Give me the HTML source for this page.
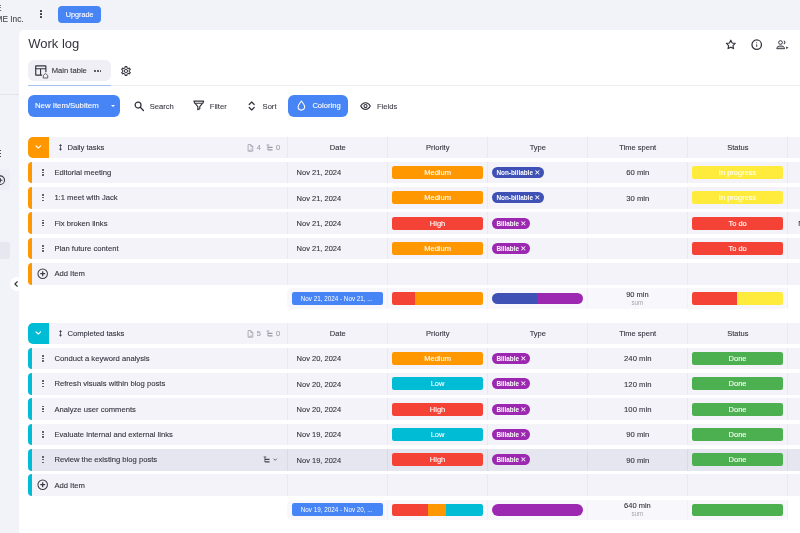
<!DOCTYPE html>
<html lang="en">
<head>
<meta charset="utf-8">
<title>Work log</title>
<style>
*{box-sizing:border-box;margin:0;padding:0}
html,body{width:800px;height:533px;overflow:hidden}
body{position:relative;background:#f2f2f9;font-family:"Liberation Sans",sans-serif;font-size:7.5px;color:#33333d;-webkit-text-stroke:0.1px currentColor}
i,em,b{font-style:normal;font-weight:normal}
.abs,.panel,.in,.in>*,.side>*{position:absolute}
.in{left:0;top:-0.2px;width:100%;height:100%}
svg{display:block;overflow:visible}
/* top bar */
.org1{position:absolute;left:-4.2px;top:2.6px;font-size:8.6px;line-height:10px;color:#44444e}
.org2{position:absolute;left:-4.5px;top:13.6px;font-size:8.3px;line-height:10px;color:#44444e;transform:scaleY(1.08);white-space:nowrap}
.kebab{position:absolute;left:40.4px;top:10.2px;width:2px}
.kebab i,.sk i{display:block;width:1.7px;height:1.7px;border-radius:50%;background:#33333d;margin-bottom:1.4px}
.upg{position:absolute;left:58.2px;top:5.6px;width:43px;height:17.2px;border-radius:4px;background:#4784f5;color:#fff;font-size:7.3px;line-height:17.2px;text-align:center}
/* sidebar */
.side{position:absolute;left:0;top:29px;width:19.4px;height:504px}
.sline{left:0;top:65px;width:19.4px;height:1px;background:#e3e3ec}
.sk{left:-0.8px;top:120.5px}
.sbox1{left:-4px;top:139.6px;width:13.6px;height:21px;border-radius:3px;background:#ededf5}
.sbox2{left:-4px;top:213.4px;width:13.6px;height:17px;border-radius:3px;background:#e7e7f0}
.scirc{left:-5px;top:145.8px;width:10.4px;height:10.4px}
.coll{position:absolute;left:9.6px;top:277px;width:13.6px;height:13.6px;border-radius:50%;background:#fff}
.coll svg{position:absolute;left:4.6px;top:3.8px;width:4px;height:6px}
/* panel */
.panel{left:19.4px;top:29.5px;width:790px;height:510px;background:#fff;border-radius:5px 0 0 0}
.h1{left:8.8px;top:6.9px;-webkit-text-stroke:0;font-size:13px;line-height:16px;color:#33333d;white-space:nowrap}
.tab{left:8.2px;top:31.1px;width:83.4px;height:20.8px;border-radius:6px;background:#efeff5}
.tab svg.tbl{position:absolute;left:7.6px;top:5px;width:11.6px;height:11px}
.tab svg.home{position:absolute;left:14.8px;top:11.6px;width:7px;height:7px}
.tab span{position:absolute;left:24.2px;top:0;line-height:22.4px;font-size:7.6px;white-space:nowrap;color:#33333d}
.tab .more{position:absolute;left:66.8px;top:10px;width:12px;height:2px}
.tab .more i{float:left;width:1.5px;height:1.5px;border-radius:50%;background:#444450;margin-right:1.2px}
.gear{left:100.6px;top:35.6px;width:12px;height:12px}
.hr{left:8.2px;top:56.1px;width:790px;height:1px;background:#ebebf0}
.hrb{left:8.2px;top:55.8px;width:83.4px;height:1.1px;background:#a6c2ec}
.btn{left:8.4px;top:66px;width:92.2px;height:21.8px;border-radius:6px;background:#4784f5;color:#fff;font-size:7.8px;line-height:22.4px;padding-left:7.2px;white-space:nowrap}
.btn:after{content:"";position:absolute;left:83.6px;top:9.6px;border:2.2px solid transparent;border-top:2.6px solid #fff;border-bottom:0}
.tb{font-size:7.6px;line-height:10px;top:72.2px;color:#3c3c46;white-space:nowrap}
.btn2{left:268.6px;top:65.8px;width:59.6px;height:21.8px;border-radius:6px;background:#4784f5}
.btn2 span{position:absolute;left:24.4px;top:0;line-height:22.6px;color:#fff;font-size:7.6px}
.btn2 svg{position:absolute;left:9.2px;top:5.2px;width:8.8px;height:11px}
/* table */
.ghead,.row,.summ{left:8.4px;width:790px;height:21.4px}
.ghead{background:#f4f3fa;border-radius:5px 0 0 5px}
.gtog{position:absolute;left:0;top:0;width:21.4px;height:21.4px;border-radius:5px 0 0 5px}
.gtog svg{position:absolute;left:7.6px;top:8.6px;width:6.6px;height:4px}
.updown{position:absolute;left:31px;top:7.6px;width:3px;height:6.8px}
.gname{position:absolute;left:39.6px;top:0.2px;line-height:21.4px;font-size:7.65px;white-space:nowrap}
.gi{position:absolute;color:#9a9aa6}
.gcnt{position:absolute;top:0.3px;line-height:21.4px;font-size:7.4px;color:#9a9aa6}
.ch{position:absolute;top:0.3px;width:100px;text-align:center;line-height:21.4px;font-size:7.5px;white-space:nowrap}
.v{position:absolute;top:0;width:1px;height:100%;background:#e9e9f1}
.v2{position:absolute;top:0;width:1px;height:100%;background:#f0f0f5}
.row{background:#f4f3fa;border-radius:4px 0 0 4px}
.row.hl{background:#e6e6f0}
.row.hl .v{background:#dadae4}
.lb{position:absolute;left:0;top:0;width:4.4px;height:100%;border-radius:4px 0 0 4px}
.dots{position:absolute;left:14.6px;top:7.1px;width:2px}
.dots i{display:block;width:1.7px;height:1.6px;background:#62626c;margin-bottom:1.05px}
.title{position:absolute;left:26.6px;top:0.2px;line-height:21.4px;font-size:7.65px;white-space:nowrap}
.ri{position:absolute;color:#44444e}
.date{position:absolute;left:268.8px;top:0.4px;line-height:21.4px;font-size:7.5px;white-space:nowrap}
.badge{position:absolute;top:4.1px;width:91.6px;height:13.2px;border-radius:2.2px;color:#fff;text-align:center;line-height:14px;font-size:7.5px}
.chip{position:absolute;left:464px;top:5.3px;height:10.8px;border-radius:5.4px;color:#fff;font-size:6.4px;font-weight:bold;-webkit-text-stroke:0;line-height:11.6px;padding-left:4.6px;white-space:nowrap}
.chip em{font-size:7.4px;font-weight:bold;font-family:"DejaVu Sans",sans-serif;line-height:8px;margin-left:-0.6px}
.time{position:absolute;left:560px;width:100px;text-align:center;top:0.4px;line-height:21.4px;font-size:7.7px}
.plus{position:absolute;left:9.3px;top:5px;width:11.4px;height:11.4px}
.summ{left:268px;width:500.2px;background:#f8f8fc;border-radius:5px;height:20.2px}
.range{position:absolute;left:4.8px;top:3.6px;width:90.6px;height:13px;border-radius:2.2px;background:#4784f5;color:#fff;font-size:6.3px;-webkit-text-stroke:0;line-height:13.2px;text-indent:-1.6px;text-align:center;white-space:nowrap}
.sbar{position:absolute;width:90.8px;overflow:hidden;display:flex}
.sbar i{display:block;height:100%}
.stime{position:absolute;left:300px;width:100px;text-align:center;top:2.6px;line-height:8px;font-size:7.5px}
.ssum{position:absolute;left:300px;width:100px;text-align:center;top:10.4px;line-height:7px;font-size:6.3px;color:#a6a6b2;-webkit-text-stroke:0}
</style>
</head>
<body>
<div class="org1">E</div>
<div class="org2">ME Inc.</div>
<div class="kebab"><i></i><i></i><i></i></div>
<div class="upg">Upgrade</div>

<div class="side">
  <div class="sline"></div>
  <div class="sk"><i></i><i></i><i></i></div>
  <div class="sbox1"></div>
  <svg class="scirc" viewBox="0 0 12 12"><circle cx="6" cy="6" r="5" fill="none" stroke="#33333d" stroke-width="1.2"/><path d="M6 3.4v5.2M3.4 6h5.2" stroke="#33333d" stroke-width="1.3"/></svg>
  <div class="sbox2"></div>
</div>

<div class="panel"><div class="in">
  <div class="h1">Work log</div>
  <svg class="abs" viewBox="0 0 24 24" style="left:705.5px;top:9.700px;width:11.600px;height:11.200px"><path d="M12 2.6l2.9 6 6.5.9-4.7 4.6 1.1 6.5L12 17.5l-5.8 3.1 1.1-6.5L2.6 9.5l6.5-.9z" fill="none" stroke="#33333d" stroke-width="2.5" stroke-linejoin="round"/></svg>
  <svg class="abs" viewBox="0 0 24 24" style="left:731.800px;top:9.600px;width:11.400px;height:11.400px"><circle cx="12" cy="12" r="10" fill="none" stroke="#33333d" stroke-width="2.700"/><path d="M12 11.200v5.600" stroke="#33333d" stroke-width="1.900"/><circle cx="12" cy="7.800" r="1.150" fill="#33333d"/></svg>
  <svg class="abs" viewBox="0 0 26 20" style="left:757px;top:10.300px;width:13px;height:10px"><circle cx="9" cy="5" r="3.700" fill="none" stroke="#33333d" stroke-width="2"/><path d="M1.500 17.400C1.500 13 5.500 12 9.300 12s7.800 1 7.800 5.400z" fill="#c8c8ce" stroke="#33333d" stroke-width="1.900" stroke-linejoin="round"/><path d="M15.800 1.400a3.700 3.700 0 0 1 0 7a5 5 0 0 0 0-7z" fill="#33333d" stroke="#33333d" stroke-width="1" stroke-linejoin="round"/><path d="M20.400 12.800l4.800 2.600-4.800 2.600z" fill="#33333d"/></svg>

  <div class="tab">
    <svg class="tbl" viewBox="0 0 24 22"><rect x="1.500" y="1.500" width="21" height="19" rx="0.600" fill="none" stroke="#33333d" stroke-width="2.400"/><path d="M1.500 7.200h21M11.500 7.200v13" stroke="#33333d" stroke-width="2.200" fill="none"/></svg>
    <svg class="home" viewBox="0 0 14 14"><circle cx="7" cy="7" r="7" fill="#efeff5"/><path d="M2.500 7 7 2.800 11.500 7v5h-9z" fill="#efeff5" stroke="#33333d" stroke-width="1.500" stroke-linejoin="round"/></svg>
    <span>Main table</span>
    <div class="more"><i></i><i></i><i></i></div>
  </div>
  <svg class="gear" viewBox="0 0 24 24"><path fill="#33333d" d="M19.43 12.98c.04-.32.07-.64.07-.98 0-.34-.03-.66-.07-.98l2.110-1.650c.19-.15.24-.42.12-.64l-2-3.460c-.09-.16-.26-.25-.44-.25-.06 0-.12.010-.17.030l-2.490 1c-.52-.4-1.080-.73-1.690-.98l-.38-2.650C14.460 2.180 14.250 2 14 2h-4c-.25 0-.46.18-.49.42l-.38 2.650c-.61.25-1.170.59-1.690.98l-2.490-1c-.06-.02-.12-.03-.18-.03-.17 0-.34.09-.43.25l-2 3.460c-.13.22-.07.49.12.64l2.110 1.650c-.04.32-.07.65-.07.98 0 .33.030.66.070.98l-2.110 1.650c-.19.15-.24.42-.12.64l2 3.460c.09.16.26.25.44.25.06 0 .12-.01.17-.03l2.490-1c.52.4 1.080.73 1.690.98l.38 2.650c.03.24.24.42.49.42h4c.25 0 .46-.18.49-.42l.38-2.650c.61-.25 1.170-.59 1.690-.98l2.490 1c.06.020.12.030.18.030.17 0 .34-.09.43-.25l2-3.460c.12-.22.070-.49-.12-.64l-2.110-1.650zm-1.980-1.710c.04.31.05.52.05.73 0 .21-.02.43-.05.73l-.14 1.130.89.700 1.080.840-.7 1.210-1.270-.51-1.040-.42-.9.68c-.43.32-.84.56-1.250.73l-1.060.43-.16 1.130-.2 1.350h-1.400l-.19-1.350-.16-1.130-1.060-.43c-.43-.18-.83-.41-1.230-.71l-.91-.7-1.060.43-1.270.51-.7-1.210 1.080-.84.890-.7-.14-1.130c-.03-.31-.05-.54-.05-.74s.020-.43.050-.73l.14-1.130-.89-.7-1.080-.84.700-1.210 1.270.51 1.040.42.900-.68c.43-.32.840-.56 1.250-.73l1.060-.43.160-1.130.200-1.350h1.390l.19 1.350.16 1.130 1.060.43c.43.18.83.41 1.230.71l.91.700 1.060-.43 1.270-.51.700 1.210-1.070.85-.89.700.14 1.130zM12 8c-2.210 0-4 1.790-4 4s1.790 4 4 4 4-1.790 4-4-1.790-4-4-4zm0 6c-1.100 0-2-.9-2-2s.9-2 2-2 2 .9 2 2-.9 2-2 2z"/></svg>
  <div class="hr"></div>
  <div class="hrb"></div>

  <div class="btn">New Item/Subitem</div>
  <svg class="abs" viewBox="0 0 20 20" style="left:114.200px;top:72px;width:10.200px;height:10.200px"><circle cx="8" cy="8" r="5.800" fill="none" stroke="#33333d" stroke-width="2.400"/><path d="M12.400 12.400 18.500 18.500" stroke="#33333d" stroke-width="2.600" stroke-linecap="round"/></svg>
  <span class="tb" style="left:130.400px">Search</span>
  <svg class="abs" viewBox="0 0 24 22" style="left:173.600px;top:71px;width:11.600px;height:10.800px"><path d="M2 2h20l-1.500 4.500H3.500z" fill="none" stroke="#33333d" stroke-width="2.400" stroke-linejoin="round"/><path d="M4.500 7l5.500 6.500v6.500l4-2v-4.500L19.500 7" fill="none" stroke="#33333d" stroke-width="2.400" stroke-linejoin="round"/></svg>
  <span class="tb" style="left:190.400px">Filter</span>
  <svg class="abs" viewBox="0 0 14 20" style="left:228.400px;top:71.600px;width:7.400px;height:10px"><path d="M2 7 7 2l5 5M2 13l5 5 5-5" fill="none" stroke="#33333d" stroke-width="2.400" stroke-linecap="round" stroke-linejoin="round"/></svg>
  <span class="tb" style="left:243.200px">Sort</span>
  <div class="btn2"><svg viewBox="0 0 16 20"><path d="M8 1.800C5.500 5.200 2 9 2 12.500a6 6 0 0 0 12 0C14 9 10.500 5.200 8 1.800z" fill="none" stroke="#fff" stroke-width="2" stroke-linejoin="round"/></svg><span>Coloring</span></div>
  <svg class="abs" viewBox="0 0 24 18" style="left:341px;top:72.400px;width:11px;height:8.200px"><path d="M1.500 9C4 4 7.500 1.500 12 1.500S20 4 22.500 9C20 14 16.500 16.500 12 16.500S4 14 1.500 9z" fill="none" stroke="#33333d" stroke-width="2.400" stroke-linejoin="round"/><circle cx="12" cy="9" r="3.400" fill="none" stroke="#33333d" stroke-width="2.400"/></svg>
  <span class="tb" style="left:357.600px">Fields</span>

<div class="ghead" style="top:107.2px">
<div class="gtog" style="background:#ff9800"><svg viewBox="0 0 10 6"><path d="M1.5 1.2 5 4.5 8.5 1.2" fill="none" stroke="#fff" stroke-width="1.7" stroke-linecap="round" stroke-linejoin="round"/></svg></div>
<svg class="updown" viewBox="0 0 4 9"><path d="M2 0 4 2.6H0zM2 9 0 6.4h4z" fill="#3a3a44"/><rect x="1.5" y="2" width="1" height="5" fill="#3a3a44"/></svg>
<span class="gname">Daily tasks</span>
<svg class="gi" viewBox="0 0 12 14" style="left:219.2px;top:7.1px;width:6.6px;height:7.8px"><path d="M2 1h5l3.5 3.5V13H2z M7 1v3.5h3.5" fill="none" stroke="currentColor" stroke-width="1.4" stroke-linejoin="round"/><path d="M4.5 10.5a1.6 1.6 0 1 0 3 0V8" fill="none" stroke="currentColor" stroke-width="1.1"/></svg>
<span class="gcnt" style="left:229px">4</span>
<svg class="gi" viewBox="0 0 14 14" style="left:238.4px;top:7px;width:7.4px;height:7.4px"><path d="M1.200 1.800h5M3.600 1.800v9.600" fill="none" stroke="currentColor" stroke-width="1.500"/><path d="M3.600 6.400h8.800M3.600 11.200h8.800" fill="none" stroke="currentColor" stroke-width="2.100"/></svg>
<span class="gcnt" style="left:248.3px">0</span>
<span class="ch" style="left:260px">Date</span>
<span class="ch" style="left:360px">Priority</span>
<span class="ch" style="left:460px">Type</span>
<span class="ch" style="left:560px">Time spent</span>
<span class="ch" style="left:660px">Status</span>
<b class="v" style="left:259.5px"></b><b class="v" style="left:359.5px"></b><b class="v" style="left:459.5px"></b><b class="v" style="left:559.5px"></b><b class="v" style="left:659.5px"></b><b class="v" style="left:759.5px"></b>
</div>
<div class="row" style="top:132.5px">
<i class="lb" style="background:#ff9800"></i>
<span class="dots"><i></i><i></i><i></i></span>
<span class="title">Editorial meeting</span>
<span class="date">Nov 21, 2024</span>
<span class="badge" style="left:364px;background:#ff9800">Medium</span>
<span class="chip" style="background:#3f51b5;width:52.3px">Non-billable <em>✕</em></span>
<span class="time">60 min</span>
<span class="badge" style="left:664px;background:#ffeb3b">In progress</span>
<b class="v" style="left:259.5px"></b><b class="v" style="left:359.5px"></b><b class="v" style="left:459.5px"></b><b class="v" style="left:559.5px"></b><b class="v" style="left:659.5px"></b><b class="v" style="left:759.5px"></b>
</div>
<div class="row" style="top:157.83px">
<i class="lb" style="background:#ff9800"></i>
<span class="dots"><i></i><i></i><i></i></span>
<span class="title">1:1 meet with Jack</span>
<span class="date">Nov 21, 2024</span>
<span class="badge" style="left:364px;background:#ff9800">Medium</span>
<span class="chip" style="background:#3f51b5;width:52.3px">Non-billable <em>✕</em></span>
<span class="time">30 min</span>
<span class="badge" style="left:664px;background:#ffeb3b">In progress</span>
<b class="v" style="left:259.5px"></b><b class="v" style="left:359.5px"></b><b class="v" style="left:459.5px"></b><b class="v" style="left:559.5px"></b><b class="v" style="left:659.5px"></b><b class="v" style="left:759.5px"></b>
</div>
<div class="row" style="top:183.17px">
<i class="lb" style="background:#ff9800"></i>
<span class="dots"><i></i><i></i><i></i></span>
<span class="title">Fix broken links</span>
<span class="date">Nov 21, 2024</span>
<span class="badge" style="left:364px;background:#f44336">High</span>
<span class="chip" style="background:#9c27b0;width:38.4px">Billable <em>✕</em></span>
<span class="badge" style="left:664px;background:#f44336">To do</span>
<span class="date" style="left:770.4px">N</span>
<b class="v" style="left:259.5px"></b><b class="v" style="left:359.5px"></b><b class="v" style="left:459.5px"></b><b class="v" style="left:559.5px"></b><b class="v" style="left:659.5px"></b><b class="v" style="left:759.5px"></b>
</div>
<div class="row" style="top:208.5px">
<i class="lb" style="background:#ff9800"></i>
<span class="dots"><i></i><i></i><i></i></span>
<span class="title">Plan future content</span>
<span class="date">Nov 21, 2024</span>
<span class="badge" style="left:364px;background:#ff9800">Medium</span>
<span class="chip" style="background:#9c27b0;width:38.4px">Billable <em>✕</em></span>
<span class="badge" style="left:664px;background:#f44336">To do</span>
<b class="v" style="left:259.5px"></b><b class="v" style="left:359.5px"></b><b class="v" style="left:459.5px"></b><b class="v" style="left:559.5px"></b><b class="v" style="left:659.5px"></b><b class="v" style="left:759.5px"></b>
</div>
<div class="row" style="top:233.83px">
<i class="lb" style="background:#ff9800"></i>
<svg class="plus" viewBox="0 0 12 12"><circle cx="6" cy="6" r="5" fill="none" stroke="#3a3a44" stroke-width="1.1"/><path d="M6 3.4v5.2M3.4 6h5.2" stroke="#3a3a44" stroke-width="1.3"/></svg>
<span class="title">Add Item</span>
<b class="v" style="left:259.5px"></b><b class="v" style="left:359.5px"></b><b class="v" style="left:459.5px"></b><b class="v" style="left:559.5px"></b><b class="v" style="left:659.5px"></b><b class="v" style="left:759.5px"></b>
</div>
<div class="summ" style="top:259.1px">
<span class="range">Nov 21, 2024 - Nov 21, ...</span>
<div class="sbar" style="left:104.6px;top:4.0px;height:12.5px;border-radius:2.2px"><i style="background:#f44336;width:25%"></i><i style="background:#ff9800;width:75%"></i></div>
<div class="sbar" style="left:204.7px;top:4.6px;height:11.3px;border-radius:6px"><i style="background:#3f51b5;width:50%"></i><i style="background:#9c27b0;width:50%"></i></div>
<span class="stime">90 min</span><span class="ssum">sum</span>
<div class="sbar" style="left:404.6px;top:4.0px;height:12.5px;border-radius:2.2px"><i style="background:#f44336;width:50%"></i><i style="background:#ffeb3b;width:50%"></i></div>
<b class="v2" style="left:99.5px"></b><b class="v2" style="left:199.5px"></b><b class="v2" style="left:299.5px"></b><b class="v2" style="left:399.5px"></b><b class="v2" style="left:499.5px"></b>
</div>
<div class="ghead" style="top:293.2px">
<div class="gtog" style="background:#00bcd4"><svg viewBox="0 0 10 6"><path d="M1.5 1.2 5 4.5 8.5 1.2" fill="none" stroke="#fff" stroke-width="1.7" stroke-linecap="round" stroke-linejoin="round"/></svg></div>
<svg class="updown" viewBox="0 0 4 9"><path d="M2 0 4 2.6H0zM2 9 0 6.4h4z" fill="#3a3a44"/><rect x="1.5" y="2" width="1" height="5" fill="#3a3a44"/></svg>
<span class="gname">Completed tasks</span>
<svg class="gi" viewBox="0 0 12 14" style="left:219.2px;top:7.1px;width:6.6px;height:7.8px"><path d="M2 1h5l3.5 3.5V13H2z M7 1v3.5h3.5" fill="none" stroke="currentColor" stroke-width="1.4" stroke-linejoin="round"/><path d="M4.5 10.5a1.6 1.6 0 1 0 3 0V8" fill="none" stroke="currentColor" stroke-width="1.1"/></svg>
<span class="gcnt" style="left:229px">5</span>
<svg class="gi" viewBox="0 0 14 14" style="left:238.4px;top:7px;width:7.4px;height:7.4px"><path d="M1.200 1.800h5M3.600 1.800v9.600" fill="none" stroke="currentColor" stroke-width="1.500"/><path d="M3.600 6.400h8.800M3.600 11.200h8.800" fill="none" stroke="currentColor" stroke-width="2.100"/></svg>
<span class="gcnt" style="left:248.3px">0</span>
<span class="ch" style="left:260px">Date</span>
<span class="ch" style="left:360px">Priority</span>
<span class="ch" style="left:460px">Type</span>
<span class="ch" style="left:560px">Time spent</span>
<span class="ch" style="left:660px">Status</span>
<b class="v" style="left:259.5px"></b><b class="v" style="left:359.5px"></b><b class="v" style="left:459.5px"></b><b class="v" style="left:559.5px"></b><b class="v" style="left:659.5px"></b><b class="v" style="left:759.5px"></b>
</div>
<div class="row" style="top:318.5px">
<i class="lb" style="background:#00bcd4"></i>
<span class="dots"><i></i><i></i><i></i></span>
<span class="title">Conduct a keyword analysis</span>
<span class="date">Nov 20, 2024</span>
<span class="badge" style="left:364px;background:#ff9800">Medium</span>
<span class="chip" style="background:#9c27b0;width:38.4px">Billable <em>✕</em></span>
<span class="time">240 min</span>
<span class="badge" style="left:664px;background:#4caf50">Done</span>
<b class="v" style="left:259.5px"></b><b class="v" style="left:359.5px"></b><b class="v" style="left:459.5px"></b><b class="v" style="left:559.5px"></b><b class="v" style="left:659.5px"></b><b class="v" style="left:759.5px"></b>
</div>
<div class="row" style="top:343.83px">
<i class="lb" style="background:#00bcd4"></i>
<span class="dots"><i></i><i></i><i></i></span>
<span class="title">Refresh visuals within blog posts</span>
<span class="date">Nov 20, 2024</span>
<span class="badge" style="left:364px;background:#00bcd4">Low</span>
<span class="chip" style="background:#9c27b0;width:38.4px">Billable <em>✕</em></span>
<span class="time">120 min</span>
<span class="badge" style="left:664px;background:#4caf50">Done</span>
<b class="v" style="left:259.5px"></b><b class="v" style="left:359.5px"></b><b class="v" style="left:459.5px"></b><b class="v" style="left:559.5px"></b><b class="v" style="left:659.5px"></b><b class="v" style="left:759.5px"></b>
</div>
<div class="row" style="top:369.17px">
<i class="lb" style="background:#00bcd4"></i>
<span class="dots"><i></i><i></i><i></i></span>
<span class="title">Analyze user comments</span>
<span class="date">Nov 20, 2024</span>
<span class="badge" style="left:364px;background:#f44336">High</span>
<span class="chip" style="background:#9c27b0;width:38.4px">Billable <em>✕</em></span>
<span class="time">100 min</span>
<span class="badge" style="left:664px;background:#4caf50">Done</span>
<b class="v" style="left:259.5px"></b><b class="v" style="left:359.5px"></b><b class="v" style="left:459.5px"></b><b class="v" style="left:559.5px"></b><b class="v" style="left:659.5px"></b><b class="v" style="left:759.5px"></b>
</div>
<div class="row" style="top:394.5px">
<i class="lb" style="background:#00bcd4"></i>
<span class="dots"><i></i><i></i><i></i></span>
<span class="title">Evaluate internal and external links</span>
<span class="date">Nov 19, 2024</span>
<span class="badge" style="left:364px;background:#00bcd4">Low</span>
<span class="chip" style="background:#9c27b0;width:38.4px">Billable <em>✕</em></span>
<span class="time">90 min</span>
<span class="badge" style="left:664px;background:#4caf50">Done</span>
<b class="v" style="left:259.5px"></b><b class="v" style="left:359.5px"></b><b class="v" style="left:459.5px"></b><b class="v" style="left:559.5px"></b><b class="v" style="left:659.5px"></b><b class="v" style="left:759.5px"></b>
</div>
<div class="row hl" style="top:419.83px">
<i class="lb" style="background:#00bcd4"></i>
<span class="dots"><i></i><i></i><i></i></span>
<span class="title">Review the existing blog posts</span>
<svg class="ri" viewBox="0 0 14 14" style="left:235.5px;top:6.8px;width:7.4px;height:7.4px"><path d="M1.200 1.800h5M3.600 1.800v9.600" fill="none" stroke="currentColor" stroke-width="1.500"/><path d="M3.600 6.400h8.800M3.600 11.200h8.800" fill="none" stroke="currentColor" stroke-width="2.100"/></svg>
<svg class="ri" viewBox="0 0 8 5" style="left:245.6px;top:9px;width:4.4px;height:3px"><path d="M1 1 4 4 7 1" fill="none" stroke="currentColor" stroke-width="1.5"/></svg>
<span class="date">Nov 19, 2024</span>
<span class="badge" style="left:364px;background:#f44336">High</span>
<span class="chip" style="background:#9c27b0;width:38.4px">Billable <em>✕</em></span>
<span class="time">90 min</span>
<span class="badge" style="left:664px;background:#4caf50">Done</span>
<b class="v" style="left:259.5px"></b><b class="v" style="left:359.5px"></b><b class="v" style="left:459.5px"></b><b class="v" style="left:559.5px"></b><b class="v" style="left:659.5px"></b><b class="v" style="left:759.5px"></b>
</div>
<div class="row" style="top:445.17px">
<i class="lb" style="background:#00bcd4"></i>
<svg class="plus" viewBox="0 0 12 12"><circle cx="6" cy="6" r="5" fill="none" stroke="#3a3a44" stroke-width="1.1"/><path d="M6 3.4v5.2M3.4 6h5.2" stroke="#3a3a44" stroke-width="1.3"/></svg>
<span class="title">Add Item</span>
<b class="v" style="left:259.5px"></b><b class="v" style="left:359.5px"></b><b class="v" style="left:459.5px"></b><b class="v" style="left:559.5px"></b><b class="v" style="left:659.5px"></b><b class="v" style="left:759.5px"></b>
</div>
<div class="summ" style="top:470.5px">
<span class="range">Nov 19, 2024 - Nov 20, ...</span>
<div class="sbar" style="left:104.6px;top:4.0px;height:12.5px;border-radius:2.2px"><i style="background:#f44336;width:40%"></i><i style="background:#ff9800;width:20%"></i><i style="background:#00bcd4;width:40%"></i></div>
<div class="sbar" style="left:204.7px;top:4.6px;height:11.3px;border-radius:6px"><i style="background:#9c27b0;width:100%"></i></div>
<span class="stime">640 min</span><span class="ssum">sum</span>
<div class="sbar" style="left:404.6px;top:4.0px;height:12.5px;border-radius:2.2px"><i style="background:#4caf50;width:100%"></i></div>
<b class="v2" style="left:99.5px"></b><b class="v2" style="left:199.5px"></b><b class="v2" style="left:299.5px"></b><b class="v2" style="left:399.5px"></b><b class="v2" style="left:499.5px"></b>
</div>
</div></div>
<div class="coll"><svg viewBox="0 0 8 12"><path d="M6.500 1.500 1.800 6l4.700 4.500" fill="none" stroke="#33333d" stroke-width="2.200" stroke-linecap="round" stroke-linejoin="round"/></svg></div>
</body>
</html>
